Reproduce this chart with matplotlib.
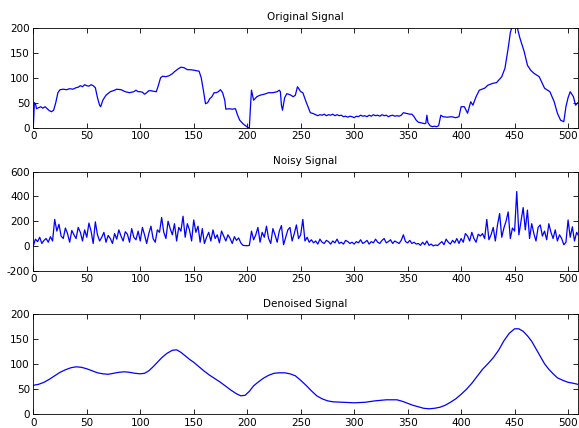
import numpy as np
import matplotlib
matplotlib.use("Agg")
import matplotlib.pyplot as plt

plt.rcParams['font.family'] = ['DejaVu Sans']
plt.rcParams['axes.unicode_minus'] = False

# ---------------- data ----------------
orig_x = [0, 1, 2, 3, 5, 7, 9, 11, 13, 15,
          17, 19, 21, 23, 25, 28, 31, 34, 37, 40,
          42, 44, 46, 48, 50, 52, 54, 56, 58, 60,
          62, 63, 65, 68, 72, 76, 78, 82, 86, 90,
          92, 94, 96, 98, 100, 102, 104, 106, 108, 110,
          112, 115, 117, 119, 121, 124, 127, 130, 132, 135,
          138, 141, 144, 147, 150, 155, 157, 159, 161, 163,
          165, 167, 169, 171, 173, 175, 177, 179, 180, 183,
          186, 189, 191, 193, 196, 199, 201, 202, 203, 204,
          206, 209, 212, 216, 220, 224, 228, 230, 231, 232,
          233, 235, 237, 240, 243, 245, 247, 250, 252, 255,
          259, 262, 264, 266, 268, 270, 272, 274, 276, 278,
          280, 282, 284, 286, 288, 290, 292, 294, 296, 298,
          300, 302, 304, 306, 308, 310, 312, 314, 316, 318,
          320, 322, 324, 326, 328, 330, 332, 334, 336, 338,
          340, 342, 344, 346, 348, 350, 352, 354, 356, 358,
          360, 362, 364, 366, 367, 368, 369, 371, 373, 375,
          377, 379, 381, 383, 387, 391, 395, 398, 400, 403,
          406, 409, 411, 414, 417, 422, 425, 430, 433, 438,
          441, 444, 446, 448, 450, 452, 455, 459, 462, 465,
          468, 473, 478, 483, 487, 490, 493, 496, 498, 500,
          502, 505, 507, 510]
orig_y = [0, 50, 48, 38, 40, 42, 39, 42, 38, 34,
          32, 35, 50, 70, 76, 77, 76, 78, 77, 80,
          81, 84, 82, 86, 84, 83, 86, 84, 80, 60,
          45, 42, 55, 65, 72, 75, 77, 76, 72, 70,
          71, 72, 75, 72, 72, 71, 67, 70, 74, 74,
          73, 72, 85, 100, 103, 102, 104, 108, 112, 117,
          121, 120, 116, 116, 115, 113, 100, 75, 48, 50,
          58, 62, 70, 70, 72, 76, 70, 55, 37, 38,
          37, 38, 25, 15, 8, 3, 0, 0, 40, 75,
          55, 62, 65, 67, 70, 70, 72, 75, 72, 45,
          35, 60, 68, 66, 62, 65, 82, 72, 70, 52,
          30, 28, 26, 24, 26, 25, 27, 24, 26, 25,
          27, 24, 26, 24, 25, 22, 23, 21, 23, 22,
          20, 23, 22, 25, 23, 24, 22, 25, 23, 26,
          24, 25, 23, 26, 24, 25, 22, 24, 25, 23,
          24, 23, 25, 30, 29, 28, 27, 27, 22, 15,
          11, 10, 9, 8, 9, 25, 10, 4, 2, 3,
          2, 4, 25, 22, 21, 22, 20, 22, 42, 42,
          29, 52, 45, 62, 75, 79, 85, 89, 90, 102,
          119, 159, 190, 205, 206, 204, 179, 152, 125, 115,
          109, 102, 79, 72, 52, 29, 15, 12, 42, 60,
          72, 62, 45, 52]

noisy_y = [0, 55, 35, 70, 20, 45, 60, 30, 75, 40,
           215, 120, 175, 80, 60, 145, 100, 30, 125, 90,
           60, 150, 110, 40, 130, 70, 185, 120, 20, 195,
           90, 40, 70, 110, 30, 85, 60, 20, 100, 55,
           130, 80, 40, 115, 95, 30, 140, 70, 50, 120,
           40, 150, 90, 20, 100, 160, 60, 30, 130, 110,
           230, 110, 60, 200, 140, 90, 180, 40, 150, 120,
           240, 70, 180, 130, 40, 210, 110, 160, 30, 140,
           20, 70, 110, 40, 130, 60, 90, 25, 120, 80,
           40, 90, 60, 20, 75, 45, 65, 25, 5, 3,
           2, 4, 120, 50, 90, 150, 30, 110, 70, 160,
           60, 20, 140, 90, 30, 120, 165, 10, 70, 130,
           150, 40, 100, 170, 60, 90, 215, 40, 70, 30,
           50, 25, 40, 15, 55, 30, 20, 45, 35, 15,
           40, 25, 55, 20, 30, 15, 45, 35, 20, 30,
           15, 35, 25, 50, 20, 30, 45, 15, 35, 25,
           55, 30, 20, 45, 60, 25, 35, 50, 20, 40,
           30, 20, 45, 90, 35, 25, 45, 20, 30, 15,
           20, 5, 30, 10, 40, 5, 15, 0, 8, 3,
           20, 35, 10, 55, 30, 15, 45, 25, 60, 20,
           60, 30, 100, 80, 40, 110, 60, 30, 95, 80,
           100, 60, 215, 50, 90, 150, 40, 170, 262, 70,
           145, 200, 275, 60, 145, 120, 440, 90, 200, 310,
           130, 290, 60, 180, 100, 40, 150, 170, 80, 120,
           50, 180, 110, 60, 130, 40, 90, 60, 10, 30,
           210, 70, 155, 40, 110, 80]
noisy_x = list(range(0, 2 * len(noisy_y), 2))

den_x = [0, 5, 10, 15, 20, 25, 30, 35, 40, 45,
         50, 55, 60, 65, 70, 75, 80, 85, 90, 95,
         100, 104, 108, 112, 116, 120, 125, 130, 134, 138,
         142, 146, 150, 155, 160, 165, 170, 175, 180, 185,
         190, 194, 198, 202, 206, 210, 215, 220, 225, 230,
         235, 240, 245, 250, 255, 260, 265, 270, 275, 280,
         290, 300, 310, 320, 330, 340, 345, 350, 355, 360,
         365, 370, 375, 380, 385, 390, 395, 400, 405, 410,
         415, 420, 425, 430, 435, 440, 445, 450, 454, 458,
         462, 466, 470, 474, 478, 482, 486, 490, 495, 500,
         505, 511]
den_y = [58, 60, 64, 70, 77, 84, 89, 93, 95, 94,
         91, 87, 83, 81, 80, 82, 84, 85, 84, 82,
         81, 82, 87, 95, 104, 113, 122, 128, 129, 124,
         117, 110, 104, 95, 86, 78, 71, 64, 56, 48,
         41, 37, 38, 46, 57, 64, 72, 78, 82, 83,
         83, 81, 77, 68, 58, 47, 37, 31, 27, 25,
         24, 23, 24, 27, 29, 29, 26, 22, 18, 15,
         12, 11, 12, 14, 18, 24, 31, 40, 50, 62,
         76, 90, 101, 113, 128, 147, 162, 171, 171, 166,
         157, 146, 131, 116, 101, 90, 81, 73, 68, 64,
         62, 59]

titles = ["Original Signal", "Noisy Signal", "Denoised Signal"]
yticks_list = [[0, 50, 100, 150, 200], [-200, 0, 200, 400, 600], [0, 50, 100, 150, 200]]
xticks = [0, 50, 100, 150, 200, 250, 300, 350, 400, 450, 500]

# ---------------- figure ----------------
W, H = 579, 428
fig = plt.figure(figsize=(W / 100, H / 100), dpi=100)

left = 33.3 / W
width = (577.7 - 33.3) / W
boxes = [(27.7, 127.7), (171.7, 270.7), (314.3, 414.3)]
series = [(orig_x, orig_y), (noisy_x, noisy_y), (den_x, den_y)]

for (top, bot), (xs, ys), title, yt in zip(boxes, series, titles, yticks_list):
    ax = fig.add_axes([left, 1 - bot / H, width, (bot - top) / H])
    ax.plot(xs, ys, color='#0000ff', linewidth=0.9)
    ax.set_xlim(0, 509)
    ax.set_ylim(yt[0], yt[-1])
    ax.set_xticks(xticks)
    ax.set_yticks(yt)
    ax.tick_params(direction='in', length=3.5, width=0.6, top=True, right=True,
                   labelsize=7.5, pad=2.5, colors='black')
    for sp in ax.spines.values():
        sp.set_linewidth(0.6)
    ax.set_title(title, fontsize=7.5, pad=5.5)

fig.savefig("out.png", dpi=100)
